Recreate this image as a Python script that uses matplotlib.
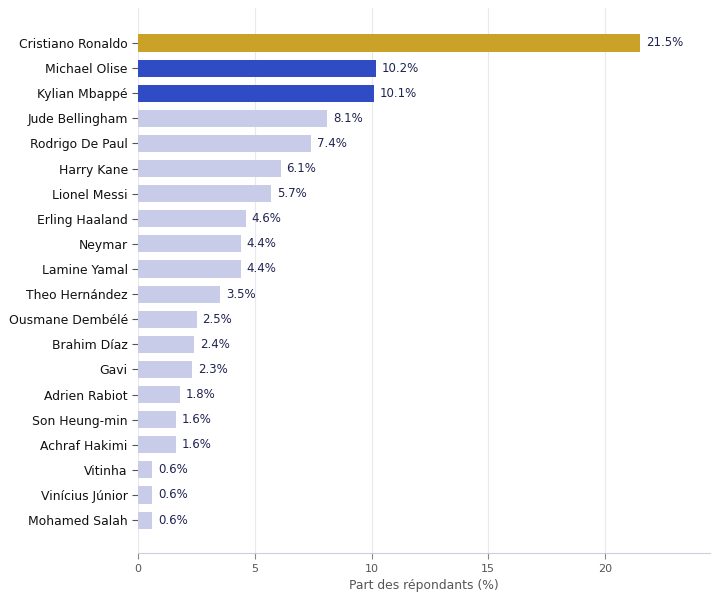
import matplotlib
matplotlib.use("Agg")
import matplotlib.pyplot as plt

players = ["Cristiano Ronaldo", "Michael Olise", "Kylian Mbappé", "Jude Bellingham",
           "Rodrigo De Paul", "Harry Kane", "Lionel Messi", "Erling Haaland", "Neymar",
           "Lamine Yamal", "Theo Hernández", "Ousmane Dembélé", "Brahim Díaz", "Gavi",
           "Adrien Rabiot", "Son Heung-min", "Achraf Hakimi", "Vitinha", "Vinícius Júnior",
           "Mohamed Salah"]
shares = [21.5, 10.2, 10.1, 8.1, 7.4, 6.1, 5.7, 4.6, 4.4, 4.4, 3.5, 2.5, 2.4, 2.3,
          1.8, 1.6, 1.6, 0.6, 0.6, 0.6]

gold = "#C9A227"
blue = "#2F4CC4"
light = "#C9CCE8"
colors = [gold, blue, blue] + [light] * (len(players) - 3)

fig = plt.figure(figsize=(7.2, 6.02), dpi=100)
ax = fig.add_axes([0.192, 0.081, 0.794, 0.906])

y = list(range(len(players)))
ax.barh(y, shares, height=0.68, color=colors, zorder=3)
for yi, v in zip(y, shares):
    ax.text(v + 0.25, yi, f"{v}%", va="center", ha="left", fontsize=8.5, color="#1F2350")

ax.set_yticks(y)
ax.set_yticklabels(players, fontsize=8.9, color="#111111")
ax.set_ylim(len(players) - 1 + 1.32, -1.4)
ax.set_xlim(0, 24.5)
ax.set_xticks([0, 5, 10, 15, 20])
ax.tick_params(axis="x", labelsize=8, colors="#555555", length=4, color="#888888")
ax.tick_params(axis="y", length=4, color="#555555")
ax.set_xlabel("Part des répondants (%)", fontsize=8.9, color="#555555")
ax.grid(axis="x", color="#E8E8EE", linewidth=0.8, zorder=0)
for s in ["top", "right", "left"]:
    ax.spines[s].set_visible(False)
ax.spines["bottom"].set_color("#CCD0DD")

fig.savefig("out.png", dpi=100)
